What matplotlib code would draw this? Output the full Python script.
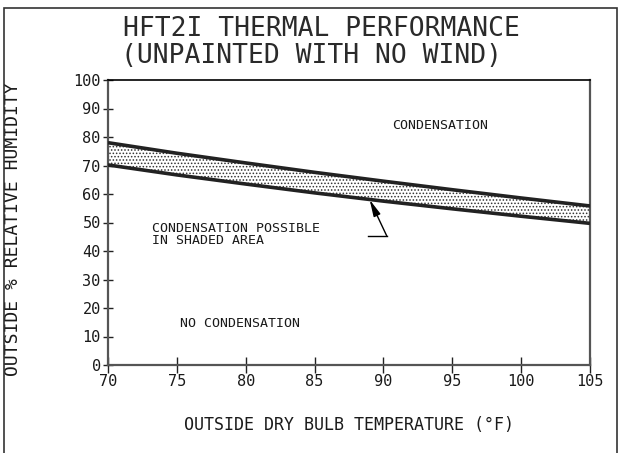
import matplotlib
matplotlib.use("Agg")
import matplotlib.pyplot as plt
from matplotlib.patches import Rectangle

# ---- data ----
temps = [70, 75, 80, 85, 90, 95, 100, 105]
upper_rh = [78.0, 74.3, 70.9, 67.6, 64.5, 61.5, 58.6, 55.8]
lower_rh = [70.2, 66.7, 63.5, 60.4, 57.5, 54.8, 52.2, 49.7]

x_ticks = [70, 75, 80, 85, 90, 95, 100, 105]
y_ticks = [0, 10, 20, 30, 40, 50, 60, 70, 80, 90, 100]

title_lines = ["HFT2I THERMAL PERFORMANCE", "(UNPAINTED WITH NO WIND)"]
x_label = "OUTSIDE DRY BULB TEMPERATURE (°F)"
y_label = "OUTSIDE % RELATIVE HUMIDITY"
label_cond = "CONDENSATION"
label_possible = "CONDENSATION POSSIBLE\nIN SHADED AREA"
label_nocond = "NO CONDENSATION"

# annotation anchor points (data coords)
arrow_tip = (89.0, 58.0)
arrow_bend = (90.25, 45.2)
arrow_tail = (88.9, 45.2)

FONT = "DejaVu Sans Mono"
TXT = "#1a1a1a"

plt.rcParams['hatch.linewidth'] = 0.7

fig = plt.figure(figsize=(6.24, 4.53), dpi=100)
ax = fig.add_axes([108 / 624, 1 - 365 / 453, 482 / 624, 285 / 453])

# band
ax.fill_between(temps, lower_rh, upper_rh, facecolor="white",
                edgecolor="#333333", hatch=".....", linewidth=0, zorder=1)
ax.plot(temps, upper_rh, color="#222222", lw=2.6, solid_capstyle="butt", zorder=3)
ax.plot(temps, lower_rh, color="#222222", lw=2.6, solid_capstyle="butt", zorder=3)

ax.set_xlim(70, 105)
ax.set_ylim(0, 100)
ax.set_xticks(x_ticks)
ax.set_yticks(y_ticks)
ax.set_xticklabels([str(v) for v in x_ticks], fontfamily=FONT, fontsize=11, color=TXT)
ax.set_yticklabels([str(v) for v in y_ticks], fontfamily=FONT, fontsize=11, color=TXT)
ax.tick_params(axis="x", direction="inout", length=11, width=1, color="#222222", pad=1)
ax.tick_params(axis="y", direction="inout", length=6.5, width=1, color="#222222", pad=2)

for side in ["left", "bottom", "right"]:
    ax.spines[side].set_color("#555555")
    ax.spines[side].set_linewidth(1.6)
ax.spines["top"].set_color("black")
ax.spines["top"].set_linewidth(1.2)

ax.set_xlabel(x_label, fontfamily=FONT, fontsize=12, color=TXT)
ax.xaxis.set_label_coords(0.5, -0.18)
ax.set_ylabel(y_label, fontfamily=FONT, fontsize=13, color=TXT)
ax.yaxis.set_label_coords(-0.178, 0.477)

# region labels
ax.text(90.6, 84.2, label_cond, fontfamily=FONT, fontsize=9.5, color=TXT,
        ha="left", va="center")
ax.text(73.2, 45.8, label_possible, fontfamily=FONT, fontsize=9.5, color=TXT,
        ha="left", va="center", linespacing=0.85)
ax.text(75.2, 14.6, label_nocond, fontfamily=FONT, fontsize=9.5, color=TXT,
        ha="left", va="center")

# leader arrow
ax.plot([arrow_tail[0], arrow_bend[0]], [arrow_tail[1], arrow_bend[1]],
        color="black", lw=1, zorder=4)
ax.annotate("", xy=arrow_tip, xytext=arrow_bend,
            arrowprops=dict(arrowstyle="-|>,head_length=1.0,head_width=0.22",
                            color="black", lw=1, shrinkA=0, shrinkB=0),
            zorder=5)

# title
fig.text(123 / 624, 1 - 29 / 453, title_lines[0], fontfamily=FONT, fontsize=19,
         color="#2a2a2a", ha="left", va="center")
fig.text(121 / 624, 1 - 56 / 453, title_lines[1], fontfamily=FONT, fontsize=19,
         color="#2a2a2a", ha="left", va="center")

# outer border
fig.add_artist(Rectangle((4 / 624, -0.1), 613 / 624, 1.1 - 8 / 453,
                         transform=fig.transFigure, fill=False,
                         edgecolor="#333333", linewidth=1.2))

fig.savefig("out.png", dpi=100, facecolor="white")
